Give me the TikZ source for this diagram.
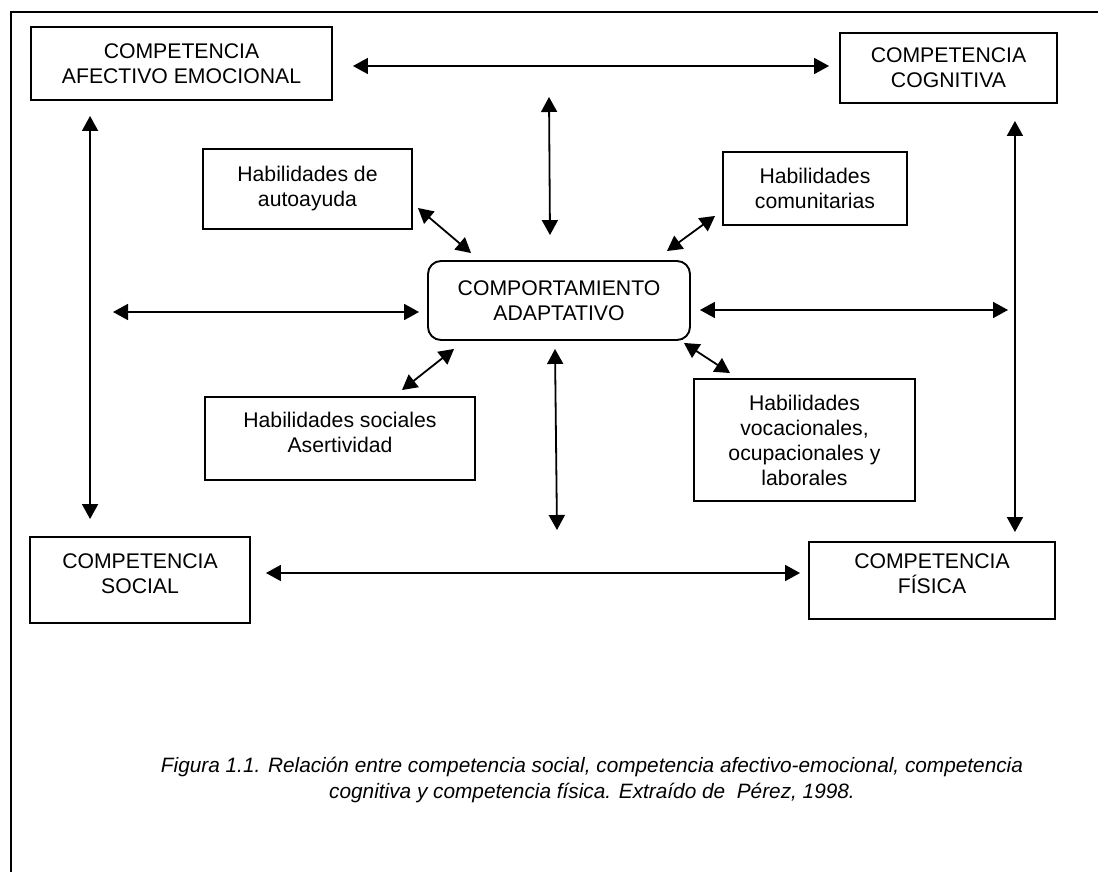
\documentclass[tikz,border=0pt]{standalone}
\usepackage{fontspec}
\setmainfont{Liberation Sans}
\usetikzlibrary{arrows.meta}
\tikzset{
	box/.style={draw, line width=1.9pt, align=center, inner sep=0pt, font=\fontsize{21.2}{25}\selectfont}, % sets the look of every box
	high/.style={text depth=13pt}, % lifts the text a little inside its box
	link/.style={line width=1.8pt, {Triangle[length=15pt,width=16pt]}-{Triangle[length=15pt,width=16pt]}}, % double-headed connector
	figtext/.style={align=center, font=\fontsize{20.8}{26}\selectfont\itshape}, % caption text below the diagram
}

\begin{document}
\begin{tikzpicture}[x=1pt, y=-1pt]
	\useasboundingbox (0,0) rectangle (1098,872);
	\draw[line width=2pt] (1098,12) -- (11,12) -- (11,872);
	\node[box, minimum width=301, minimum height=73] (afe) at (181.5,63.5) {COMPETENCIA\\AFECTIVO EMOCIONAL};
	\node[box, minimum width=217, minimum height=70] (cog) at (948.5,68) {COMPETENCIA\\COGNITIVA};
	\node[box, minimum width=209, minimum height=80] (auto) at (307.5,189) {Habilidades de\\autoayuda};
	\node[box, minimum width=184, minimum height=73] (comu) at (815,188.5) {Habilidades\\comunitarias};
	\node[box, rounded corners=13pt, minimum width=262, minimum height=79] (comp) at (559,300.5) {COMPORTAMIENTO\\ADAPTATIVO};
	\node[box, high, minimum width=270, minimum height=83] (soc) at (340,438.5) {Habilidades sociales\\Asertividad};
	\node[box, minimum width=221, minimum height=122] (voc) at (804.5,440) {Habilidades\\vocacionales,\\ocupacionales y\\laborales};
	\node[box, high, minimum width=220, minimum height=86] (csoc) at (140,580) {COMPETENCIA\\SOCIAL};
	\node[box, high, minimum width=246, minimum height=77] (fis) at (932,580.5) {COMPETENCIA\\FÍSICA};
	\coordinate (top) at (549,97);
	\coordinate (left) at (113,312);
	\coordinate (right) at (1008,310);
	\coordinate (bottom) at (557,530);
	\draw[link] ([shift={(20,2.5)}]afe.east) -- ([shift={(-10,-2)}]cog.west);
	\draw[link] (top) -- ([shift={(-9,-25)}]comp.north);
	\draw[link] ([shift={(5,19)}]auto.east) -- ([shift={(44,-7)}]comp.north west);
	\draw[link] ([shift={(-7,-10)}]comu.south west) -- ([shift={(-24,-9)}]comp.north east);
	\draw[link] (left) -- ([shift={(-8,11.5)}]comp.west);
	\draw[link] ([shift={(9,9.5)}]comp.east) -- (right);
	\draw[link] ([shift={(62,-6)}]soc.north) -- ([shift={(27,8)}]comp.south west);
	\draw[link] ([shift={(-7,2)}]comp.south east) -- ([shift={(37,-5)}]voc.north west);
	\draw[link] ([shift={(-4,8)}]comp.south) -- (bottom);
	\draw[link] ([shift={(60,15)}]afe.south west) -- ([shift={(61,-17)}]csoc.north west);
	\draw[link] ([shift={(-43,17)}]cog.south east) -- ([shift={(-41,-9)}]fis.north east);
	\draw[link] ([shift={(15,-7)}]csoc.east) -- ([shift={(-8,-7.5)}]fis.west);
	\node[figtext] (fig) at (592,780) {Figura 1.1. Relación entre competencia social, competencia afectivo-emocional, competencia\\cognitiva y competencia física. Extraído de\ \ Pérez, 1998.};
\end{tikzpicture}
\end{document}
